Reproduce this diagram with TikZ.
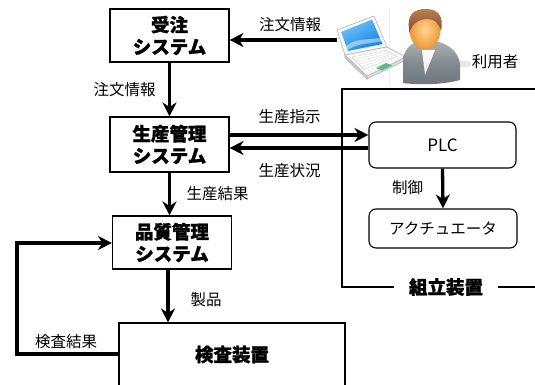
\documentclass[tikz,border=0pt]{standalone}
\usepackage{fontspec}
\setmainfont{Noto Sans CJK JP}[BoldFeatures={FakeBold=1.2}]
\usetikzlibrary{arrows.meta,calc}

\definecolor{scrblue}{RGB}{20,130,220}
\definecolor{scrlight}{RGB}{110,195,250}
\definecolor{padgreen}{RGB}{90,185,140}
\definecolor{skin}{RGB}{255,215,140}
\definecolor{skindark}{RGB}{235,150,60}
\definecolor{hair}{RGB}{130,80,45}
\definecolor{hairlight}{RGB}{185,125,80}
\definecolor{suit}{RGB}{110,118,124}
\definecolor{suitlight}{RGB}{175,180,183}

\begin{document}
\begin{tikzpicture}[x=1pt,y=-1pt,
  sysbox/.style={draw, line width=1.1pt, minimum width=119pt, minimum height=53pt,
    align=center, inner sep=0pt, font=\fontsize{18.5}{22}\selectfont\bfseries},
  devbox/.style={draw, rounded corners=7pt, line width=1.1pt, inner sep=0pt,
    font=\fontsize{15.5}{18}\selectfont},
  flow/.style={line width=3.3pt, -{Stealth[length=14pt,width=14pt,inset=4.5pt]}},
  lbl/.style={inner sep=0pt, font=\fontsize{15.5}{18}\selectfont},
  boldlbl/.style={inner sep=0pt, font=\fontsize{18.5}{22}\selectfont\bfseries},
]
\useasboundingbox (0,0) rectangle (535,385);

% ---- systems ----
\node[sysbox] (order) at (169.5,35.5) {受注\\システム};
\node[sysbox, minimum height=55pt] (prod) at (169.5,144.5) {生産管理\\システム};
\node[sysbox] (qual) at (172,242.5) {品質管理\\システム};

% inspection unit (runs off the lower edge)
\node[draw, line width=1.1pt, minimum width=226pt, minimum height=80pt, inner sep=0pt]
  (insp) at (232,363) {};
\node[boldlbl] (insplbl) at (232,354.5) {検査装置};

% ---- assembly unit frame ----
\node[boldlbl, inner xsep=15pt] (asm) at (446,287) {組立装置};
\draw[line width=1.2pt] (535,89) -- (342,89) -- (342,287) -- (asm.west);
\draw[line width=1.2pt] (asm.east) -- (535,287);

\node[devbox, minimum width=147pt, minimum height=46pt, font=\fontsize{17}{20}\selectfont]
  (plc) at (442.5,145) {PLC};
\node[devbox, minimum width=148pt, minimum height=39pt] (act) at (443,228.5) {アクチュエータ};

% ---- user: laptop ----
\coordinate (lap) at (337,40);
\draw[gray!15, line width=0.6pt] (389,8) -- (389,86);
\draw[gray!55, line width=0.7pt, fill=gray!5] (337,30) -- (374,16) -- (387,47) -- (345,55) -- cycle;
\shade[left color=scrblue, right color=scrlight, shading angle=210]
  (341,32) -- (372,19.5) -- (382.5,44) -- (348,51) -- cycle;
\fill[white, opacity=0.45] (346,46) .. controls (356,38) and (368,40) .. (380,38)
  -- (381.5,41.5) .. controls (368,44) and (358,43) .. (347.5,50) -- cycle;
\draw[gray!55, line width=0.7pt, fill=gray!40] (345,55) -- (367,76) -- (367,79) -- (345,58) -- cycle;
\draw[gray!55, line width=0.7pt, fill=gray!25] (367,76) -- (406,57) -- (406,60) -- (367,79) -- cycle;
\draw[gray!55, line width=0.7pt, fill=gray!6] (345,55) -- (387,47) -- (406,57) -- (367,76) -- cycle;
\draw[gray!35, line width=0.4pt, fill=white] (352,57) -- (386,50.5) -- (397,56.5) -- (364,69) -- cycle;
\foreach \t in {0.2,0.4,0.6,0.8}
  \draw[gray!35, line width=0.3pt] ($(352,57)!\t!(364,69)$) -- ($(386,50.5)!\t!(397,56.5)$);
\fill[padgreen] (376,68) -- (386,63) -- (392,65.5) -- (382,70.5) -- cycle;

% ---- user: person ----
\fill[gray!18] (463,64) ellipse [x radius=8pt, y radius=3.5pt];
\shade[top color=suitlight, bottom color=suit, middle color=suit!85]
  (403,83) -- (403,62) .. controls (403,49) and (412,41) .. (425,40)
  .. controls (444,40) and (460,50) .. (460,66) -- (460,80)
  .. controls (442,85) and (418,85) .. (403,83) -- cycle;
\shade[top color=white, bottom color=gray!20] (422,50) -- (435,50) -- (425,75) -- cycle;
\shade[inner color=skin, outer color=skindark] (425,30) ellipse [x radius=15.5pt, y radius=19.5pt];
\shade[top color=hairlight, bottom color=hair]
  (409.5,32) .. controls (406,14) and (414,9) .. (426,9)
  .. controls (438,9) and (444,16) .. (441,31)
  .. controls (439,23) and (434,19) .. (428,19)
  .. controls (419,19) and (413,23) .. (409.5,32) -- cycle;
\node[lbl] (user) at (495,61.5) {利用者};

% ---- flows ----
\draw[flow] (lap) -- (order.east |- lap);
\draw[flow] (order.south) -- (prod.north);
\coordinate (cmd) at (0,135);
\coordinate (sts) at (0,148);
\draw[flow] (prod.east |- cmd) -- (plc.west |- cmd);
\draw[flow] (plc.west |- sts) -- (prod.east |- sts);
\draw[flow] (prod.south) -- (prod.south |- qual.north);
\draw[flow] (qual.south -| 168,0) -- (insp.north -| 168,0);
\draw[flow] (plc.south) -- (act.north);
\coordinate (fbk) at (17,354);
\draw[flow] (insp.west |- fbk) -- (fbk) -- (17,243) -- (qual.west |- 0,243);

% ---- labels ----
\node[lbl] at (290,25) {注文情報};
\node[lbl] at (124.5,90) {注文情報};
\node[lbl] at (289.5,117) {生産指示};
\node[lbl] at (289.5,171) {生産状況};
\node[lbl] at (217.5,194) {生産結果};
\node[lbl] at (407.5,187.5) {制御};
\node[lbl] at (206,300) {製品};
\node[lbl] at (66,342) {検査結果};
\end{tikzpicture}
\end{document}
